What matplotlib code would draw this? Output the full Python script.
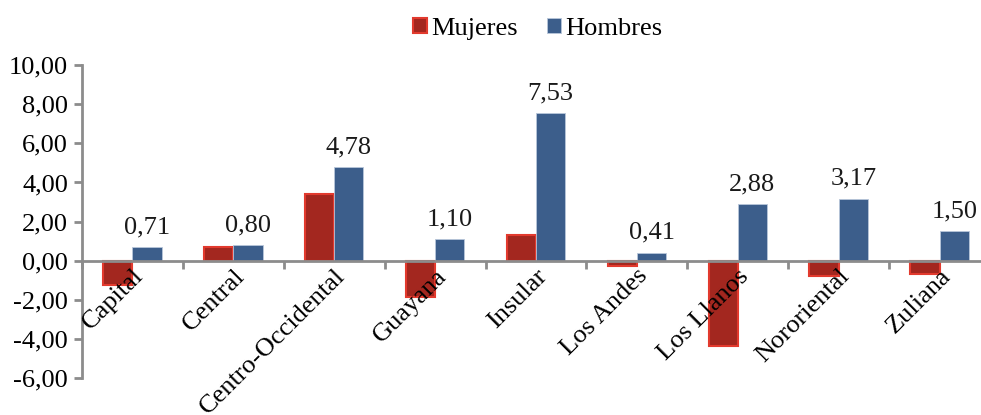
import numpy as np
import matplotlib.pyplot as plt
from matplotlib.patches import Patch

# datos por región
regiones = ['Capital', 'Central', 'Centro-Occidental', 'Guayana', 'Insular',
            'Los Andes', 'Los Llanos', 'Nororiental', 'Zuliana']
mujeres = [-1.25, 0.68, 3.42, -1.85, 1.30, -0.25, -4.35, -0.77, -0.70]
hombres = [0.71, 0.80, 4.78, 1.10, 7.53, 0.41, 2.88, 3.17, 1.50]
yticks = [-6, -4, -2, 0, 2, 4, 6, 8, 10]

plt.rcParams['font.family'] = ['Liberation Serif', 'DejaVu Serif']

rojo = '#A3271F'
rojo_borde = '#E23A2E'
azul = '#3C5E8B'
gris = '#8C8C8C'
fs = 19

fig = plt.figure(figsize=(9.81, 4.15), dpi=100)
ax = fig.add_axes([0.0836, 0.089, 0.9256, 0.754])

x = np.arange(len(regiones))
w = 0.29
ax.bar(x - w / 2, mujeres, w, color=rojo, edgecolor=rojo_borde, linewidth=1.5, zorder=2)
ax.bar(x + w / 2, hombres, w, color=azul, edgecolor='#B8C6DA', linewidth=0.6, zorder=3)

for xi, v in zip(x, hombres):
    ax.text(xi + w / 2, v + 0.45, f'{v:.2f}'.replace('.', ','), ha='center', va='bottom',
            fontsize=fs, color='#1a1a1a')

ax.set_xlim(-0.5, len(regiones) - 0.5)
ax.set_ylim(-6, 10)
ax.set_yticks(yticks)
ax.set_yticklabels([f'{t:.2f}'.replace('.', ',') for t in yticks], fontsize=fs)

# eje x en el cero
ax.spines['top'].set_visible(False)
ax.spines['right'].set_visible(False)
ax.spines['bottom'].set_position(('data', 0))
ax.spines['bottom'].set_color(gris)
ax.spines['left'].set_color(gris)
ax.spines['bottom'].set_linewidth(2)
ax.spines['left'].set_linewidth(2)
ax.spines['bottom'].set_zorder(4)
ax.xaxis.set_zorder(5)

ax.set_xticks(np.arange(len(regiones) + 1) - 0.5, minor=True)
ax.set_xticks(x)
ax.tick_params(axis='x', which='major', length=0, pad=3)
ax.tick_params(axis='x', which='minor', direction='out', length=6, width=2, color=gris)
ax.tick_params(axis='y', direction='out', length=6, width=2, color=gris, pad=4)
ax.set_xticklabels(regiones, rotation=45, ha='right', va='top', rotation_mode='anchor',
                   fontsize=fs)

handles = [Patch(facecolor=rojo, edgecolor=rojo_borde, linewidth=1.5, label='Mujeres'),
           Patch(facecolor=azul, edgecolor='#B8C6DA', linewidth=0.6, label='Hombres')]
fig.legend(handles=handles, loc='upper center', bbox_to_anchor=(0.548, 1.015), ncol=2,
           frameon=False, fontsize=fs, handlelength=0.55, handleheight=0.55,
           handletextpad=0.15, columnspacing=1.1)

fig.savefig('out.png', dpi=100)
